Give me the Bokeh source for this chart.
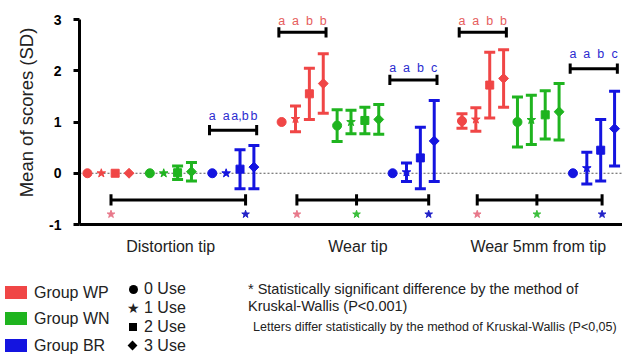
import math
from bokeh.plotting import figure
from bokeh.layouts import column
from bokeh.models import ColumnDataSource, FixedTicker, Span, Div
from bokeh.embed import file_html
from bokeh.resources import INLINE
from bokeh.core.properties import value

# ---------------- data ----------------
categories = ["Distortion tip", "Wear tip", "Wear 5mm from tip"]
group_names = ["Group WP", "Group WN", "Group BR"]
use_names = ["0 Use", "1 Use", "2 Use", "3 Use"]
y_tick_values = [-1, 0, 1, 2, 3]
y_tick_labels = ["-1", "0", "1", "2", "3"]

# Distortion tip
dist_wp_mean = [0.00, 0.00, 0.00, 0.00]
dist_wp_sd = [0.00, 0.00, 0.00, 0.00]
dist_wn_mean = [0.00, 0.00, 0.01, 0.03]
dist_wn_sd = [0.00, 0.00, 0.13, 0.18]
dist_br_mean = [0.00, 0.00, 0.08, 0.12]
dist_br_sd = [0.00, 0.00, 0.38, 0.42]
# Wear tip
wear_wp_mean = [1.00, 1.06, 1.55, 1.75]
wear_wp_sd = [0.00, 0.25, 0.50, 0.58]
wear_wn_mean = [0.93, 1.00, 1.03, 1.05]
wear_wn_sd = [0.31, 0.23, 0.26, 0.29]
wear_br_mean = [0.00, 0.02, 0.30, 0.63]
wear_br_sd = [0.00, 0.18, 0.60, 0.79]
# Wear 5mm from tip
w5_wp_mean = [1.02, 1.05, 1.72, 1.85]
w5_wp_sd = [0.14, 0.23, 0.64, 0.56]
w5_wn_mean = [1.00, 1.04, 1.14, 1.20]
w5_wn_sd = [0.49, 0.48, 0.47, 0.55]
w5_br_mean = [0.00, 0.10, 0.45, 0.87]
w5_br_sd = [0.00, 0.31, 0.60, 0.73]

means = [[dist_wp_mean, dist_wn_mean, dist_br_mean],
         [wear_wp_mean, wear_wn_mean, wear_br_mean],
         [w5_wp_mean, w5_wn_mean, w5_br_mean]]
sds = [[dist_wp_sd, dist_wn_sd, dist_br_sd],
       [wear_wp_sd, wear_wn_sd, wear_br_sd],
       [w5_wp_sd, w5_wn_sd, w5_br_sd]]

# letters (Kruskal-Wallis P<0.05): (category, group, letters)
dist_br_letters = ["a", "a", "a,b", "b"]
wear_wp_letters = ["a", "a", "b", "b"]
wear_br_letters = ["a", "a", "b", "c"]
w5_wp_letters = ["a", "a", "b", "b"]
w5_br_letters = ["a", "a", "b", "c"]
letter_sets = [(0, 2, dist_br_letters), (1, 0, wear_wp_letters), (1, 2, wear_br_letters),
               (2, 0, w5_wp_letters), (2, 2, w5_br_letters)]
# groups differing significantly (P<0.001) in each category
sig_groups = [[0, 2], [0, 1, 2], [0, 1, 2]]

note1 = "* Statistically significant difference by the method of"
note2 = "Kruskal-Wallis (P<0.001)"
note3 = "Letters differ statistically by the method of Kruskal-Wallis (P<0,05)"

# ---------------- layout / style ----------------
FONT = "Liberation Sans"
TXT = "#222222"
colors = ["#F04646", "#1FB41F", "#1414E0"]
letter_colors = ["#E65C5C", "#1FB41F", "#2B2BD0"]
star_colors = ["#E8788A", "#3CBF3C", "#2323C8"]
markers = ["circle", "star", "square", "square"]
msizes = [9, 9, 8, 7]
mangles = [0, 0, 0, math.pi / 4]

cat_base = [0, 14, 27]
group_gap = [4.5, 4, 4]
bracket_y = [0.84, 2.75, 1.82, 2.75, 2.04]
letter_y = [1.11, 2.98, 2.05, 2.98, 2.32]
sig_offsets = [[1.7, 2.4], [1.1, 1.4, 2.6], [1.1, 1.4, 2.1]]
sig_line_y, sig_star_y = -0.52, -0.80


def xpos(c, g, u):
    return cat_base[c] + g * group_gap[c] + u


W = 622
LEFT = 79
PYU = 51.25                 # pixels per y unit
XS = -0.5714
XE = xpos(2, 2, 3) + 0.5714
YE = 3 + 19 / PYU
MAIN_H = 262
LEG_H = 355 - MAIN_H

p = figure(width=W, height=MAIN_H, x_range=(XS, XE), y_range=(-1, YE),
           output_backend="svg", toolbar_location=None,
           min_border_left=LEFT, min_border_right=0, min_border_top=0,
           min_border_bottom=MAIN_H - 224)
p.outline_line_color = None
p.xgrid.visible = False
p.ygrid.visible = False

# y axis
p.yaxis.ticker = FixedTicker(ticks=y_tick_values)
p.yaxis.major_label_overrides = {v: l for v, l in zip(y_tick_values, y_tick_labels)}
p.yaxis.bounds = (-1, 3)
p.yaxis.axis_line_width = 3
p.yaxis.major_tick_line_width = 3
p.yaxis.major_tick_out = 6
p.yaxis.major_tick_in = 0
p.yaxis.minor_tick_line_color = None
p.yaxis.major_label_text_font = FONT
p.yaxis.major_label_text_font_style = "bold"
p.yaxis.major_label_text_font_size = "14px"
p.yaxis.major_label_text_color = "black"
p.yaxis.major_label_standoff = 12
p.yaxis.axis_label = "Mean of scores (SD)"
p.yaxis.axis_label_text_font = FONT
p.yaxis.axis_label_text_font_style = "normal"
p.yaxis.axis_label_text_font_size = "18.5px"
p.yaxis.axis_label_text_color = TXT
p.yaxis.axis_label_standoff = 9

# x axis
cat_centers = [(xpos(c, 0, 0) + xpos(c, 2, 3)) / 2 for c in range(3)]
p.xaxis.ticker = FixedTicker(ticks=cat_centers)
p.xaxis.major_label_overrides = {v: l for v, l in zip(cat_centers, categories)}
p.xaxis.axis_line_width = 3
p.xaxis.major_tick_out = 0
p.xaxis.major_tick_in = 0
p.xaxis.major_tick_line_color = None
p.xaxis.minor_tick_line_color = None
p.xaxis.major_label_text_font = FONT
p.xaxis.major_label_text_font_size = "16px"
p.xaxis.major_label_text_color = TXT
p.xaxis.major_label_standoff = 13

# zero line
p.add_layout(Span(location=0, dimension="width", line_color="#555555",
                  line_width=1, line_dash="2 2", level="underlay"))

# points and error bars
pts = dict(x=[], y=[], color=[], marker=[], size=[], angle=[])
eb = dict(x=[], lo=[], hi=[], color=[])
for c in range(3):
    for g in range(3):
        for u in range(4):
            x = xpos(c, g, u)
            m = means[c][g][u]
            s = sds[c][g][u]
            pts["x"].append(x); pts["y"].append(m); pts["color"].append(colors[g])
            pts["marker"].append(markers[u]); pts["size"].append(msizes[u])
            pts["angle"].append(mangles[u])
            if s > 0:
                eb["x"].append(x); eb["lo"].append(m - s); eb["hi"].append(m + s)
                eb["color"].append(colors[g])

ebs = ColumnDataSource(eb)
p.segment(x0="x", y0="lo", x1="x", y1="hi", line_color="color", line_width=3, source=ebs)
p.scatter(x="x", y="lo", marker="dash", size=11, line_color="color", line_width=3, source=ebs)
p.scatter(x="x", y="hi", marker="dash", size=11, line_color="color", line_width=3, source=ebs)
p.scatter(x="x", y="y", marker="marker", size="size", angle="angle", fill_color="color",
          line_color="color", source=ColumnDataSource(pts))

# letter brackets
br = dict(x0=[], y0=[], x1=[], y1=[])
lt = dict(x=[], y=[], text=[], color=[])
for i, (c, g, letters) in enumerate(letter_sets):
    xa = xpos(c, g, 0) - 0.2
    xb = xpos(c, g, 3) + 0.2
    yb = bracket_y[i]
    br["x0"] += [xa, xa, xb]; br["x1"] += [xb, xa, xb]
    br["y0"] += [yb, yb - 0.1, yb - 0.1]; br["y1"] += [yb, yb + 0.1, yb + 0.1]
    for u, t in enumerate(letters):
        lt["x"].append(xpos(c, g, u)); lt["y"].append(letter_y[i])
        lt["text"].append(t); lt["color"].append(letter_colors[g])

# significance brackets
st = dict(x=[], y=[], color=[])
for c in range(3):
    xs = [xpos(c, g, 0) + off for g, off in zip(sig_groups[c], sig_offsets[c])]
    br["x0"].append(xs[0]); br["x1"].append(xs[-1])
    br["y0"].append(sig_line_y); br["y1"].append(sig_line_y)
    for g, x in zip(sig_groups[c], xs):
        br["x0"].append(x); br["x1"].append(x)
        br["y0"].append(sig_line_y - 0.11); br["y1"].append(sig_line_y + 0.11)
        st["x"].append(x); st["y"].append(sig_star_y); st["color"].append(star_colors[g])

p.segment(x0="x0", y0="y0", x1="x1", y1="y1", line_color="black", line_width=3,
          source=ColumnDataSource(br))
p.text(x="x", y="y", text="text", text_color="color", text_font=value(FONT),
       text_font_size="12.5px", text_align="center", text_baseline="middle",
       source=ColumnDataSource(lt))
p.scatter(x="x", y="y", marker="star", size=8, fill_color="color", line_color="color",
          source=ColumnDataSource(st))

# ---------------- legend panel (HTML, positions in px inside the panel) ----------------
def txt(left, cy, text, size):
    return (f'<div style="position:absolute;left:{left}px;top:{cy - size / 2 - 1}px;'
            f'font-size:{size}px;line-height:{size + 2}px;white-space:nowrap;">{text}</div>')


parts = []
row_cy = [30.5, 56.5, 83.5]
for name, col, cy in zip(group_names, colors, row_cy):
    parts.append(f'<div style="position:absolute;left:5px;top:{cy - 6.5}px;width:22px;'
                 f'height:13px;background:{col};"></div>')
    parts.append(txt(34, cy, name, 16))

use_cy = [27, 46, 65, 84]
shape_css = [
    "width:9px;height:9px;border-radius:50%;background:#000;",
    None,
    "width:8px;height:8px;background:#000;",
    "width:7px;height:7px;background:#000;transform:rotate(45deg);",
]
for name, css, cy in zip(use_names, shape_css, use_cy):
    if css is None:
        parts.append(f'<div style="position:absolute;left:127px;top:{cy - 8}px;font-size:14px;'
                     f'line-height:16px;font-family:\'DejaVu Sans\';">&#9733;</div>')
    else:
        parts.append(f'<div style="position:absolute;left:129px;top:{cy - 4}px;{css}"></div>')
    parts.append(txt(144, cy, name, 16))

parts.append(txt(248, 27, note1, 14.5))
parts.append(txt(248, 44, note2.replace("<", "&lt;"), 14.5))
parts.append(txt(253, 65, note3.replace("<", "&lt;"), 12.5))

html = (f'<div style="position:relative;width:{W}px;height:{LEG_H}px;'
        f'font-family:\'{FONT}\';color:{TXT};">' + "".join(parts) + '</div>')
legend_div = Div(text=html, width=W, height=LEG_H, margin=0)

layout = column(p, legend_div, spacing=0)
open("out.html", "w").write(file_html(layout, INLINE))
